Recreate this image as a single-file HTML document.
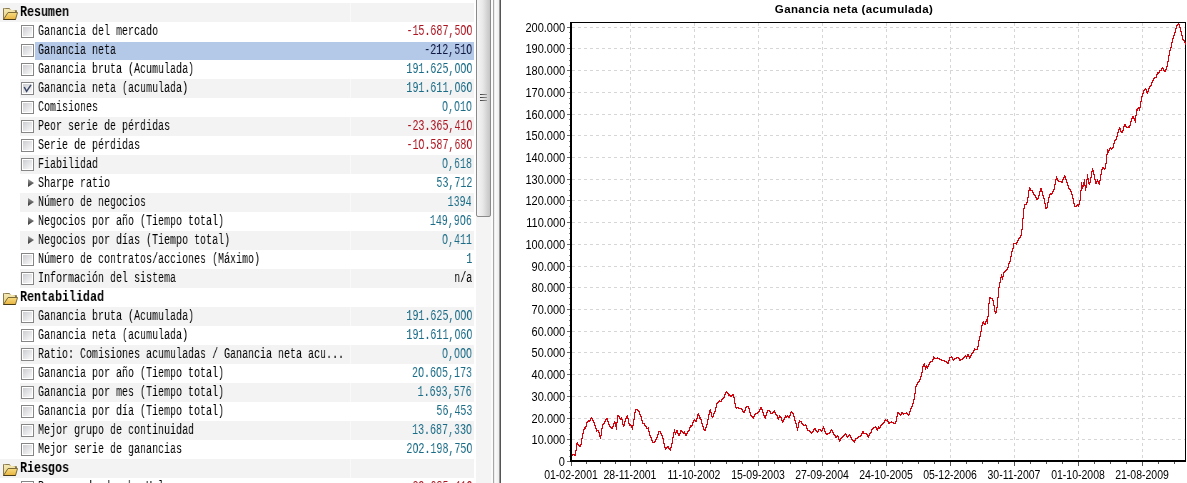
<!DOCTYPE html>
<html><head><meta charset="utf-8"><style>
html,body{margin:0;padding:0;}
body{width:1187px;height:483px;overflow:hidden;position:relative;background:#fff;font-family:"Liberation Sans",sans-serif;}
.band{position:absolute;height:19px;background:#f3f3f3;}
.cb{position:absolute;width:11px;height:11px;border:1px solid #868686;box-shadow:inset 0 0 0 1px #fff;background:linear-gradient(135deg,#cdced2 10%,#f6f6f7 85%);}
.tx{position:absolute;height:19px;line-height:19px;font-family:"Liberation Mono",monospace;font-size:14px;white-space:pre;transform:scaleX(0.7143);transform-origin:0 0;color:#000;will-change:transform;}
.vl{position:absolute;height:19px;line-height:19px;font-family:"Liberation Mono",monospace;font-size:14px;white-space:pre;transform:scaleX(0.7143);transform-origin:100% 0;will-change:transform;}
.hd{position:absolute;height:19px;line-height:19px;font-family:"Liberation Mono",monospace;font-weight:bold;font-size:14px;white-space:pre;transform:scaleX(0.8333);transform-origin:0 0;color:#000;will-change:transform;}
.yl{position:absolute;right:622px;height:16px;line-height:16px;font-size:12.5px;color:#000;white-space:pre;transform:scaleX(0.88);transform-origin:100% 0;}
.xl{position:absolute;top:467px;width:100px;text-align:center;height:16px;line-height:16px;font-size:12.5px;color:#000;white-space:pre;transform:scaleX(0.84);transform-origin:50% 0;}
.title{position:absolute;left:701px;width:306px;top:1px;text-align:center;height:16px;line-height:16px;font-size:11.5px;letter-spacing:0.35px;font-weight:bold;color:#000;white-space:pre;}
</style></head><body>
<div id="left" style="position:absolute;left:0;top:0;width:476px;height:483px;background:#fff;overflow:hidden">
<div class="band" style="left:0;top:3px;width:474px"></div>
<div style="position:absolute;left:350px;top:3px;width:1px;height:19px;background:#f9f9f9"></div>
<svg width="16" height="13" viewBox="0 0 16 13" style="position:absolute;left:3px;top:8px">
<defs><linearGradient id="fb0" x1="0" y1="0" x2="0" y2="1"><stop offset="0" stop-color="#f6ebb8"/><stop offset="1" stop-color="#e6cf7c"/></linearGradient>
<linearGradient id="ff0" x1="0" y1="0" x2="0" y2="1"><stop offset="0" stop-color="#f8dc80"/><stop offset="1" stop-color="#e8b440"/></linearGradient></defs>
<path d="M0.5 0.5 H6.5 L7.5 2.5 H13.5 V4.5 H0.5 Z" fill="url(#fb0)" stroke="#8a7a50" stroke-width="1"/>
<path d="M0.5 0.5 V11.5 H12.5 V2.5" fill="url(#fb0)" stroke="#8a7a50" stroke-width="1"/>
<path d="M0.5 11.5 L5 4.5 H14.5 L12.5 11.5 Z" fill="url(#ff0)" stroke="#7a6a38" stroke-width="1"/><path d="M0.5 11.5 H12.5" stroke="#4a3c14" stroke-width="1"/>
</svg>
<div class="hd" style="left:20px;top:3px">Resumen</div>
<div class="cb" style="left:21px;top:25px"></div>
<div class="tx" style="left:38px;top:22px">Ganancia del mercado</div>
<div class="vl" style="right:4px;top:22px;color:#ac1420">-15.687,5OO</div>
<div class="band" style="left:35px;top:42px;width:439px;height:18px;background:#b4c8e8"></div>
<div class="cb" style="left:21px;top:44px"></div>
<div class="tx" style="left:38px;top:41px">Ganancia neta</div>
<div class="vl" style="right:4px;top:41px;color:#0c1640">-212,51O</div>
<div class="cb" style="left:21px;top:63px"></div>
<div class="tx" style="left:38px;top:60px">Ganancia bruta (Acumulada)</div>
<div class="vl" style="right:4px;top:60px;color:#196b86">191.625,OOO</div>
<div class="band" style="left:20px;top:79px;width:454px"></div>
<div style="position:absolute;left:350px;top:79px;width:1px;height:19px;background:#f9f9f9"></div>
<div class="cb" style="left:21px;top:82px"></div>
<svg width="13" height="13" style="position:absolute;left:21px;top:82px"><path d="M3.2 5 L5.6 9.3 L10 2.8" fill="none" stroke="#3a4868" stroke-width="1.5"/></svg>
<div class="tx" style="left:38px;top:79px">Ganancia neta (acumulada)</div>
<div class="vl" style="right:4px;top:79px;color:#196b86">191.611,O6O</div>
<div class="cb" style="left:21px;top:101px"></div>
<div class="tx" style="left:38px;top:98px">Comisiones</div>
<div class="vl" style="right:4px;top:98px;color:#196b86">O,O1O</div>
<div class="band" style="left:20px;top:117px;width:454px"></div>
<div style="position:absolute;left:350px;top:117px;width:1px;height:19px;background:#f9f9f9"></div>
<div class="cb" style="left:21px;top:120px"></div>
<div class="tx" style="left:38px;top:117px">Peor serie de pérdidas</div>
<div class="vl" style="right:4px;top:117px;color:#ac1420">-23.365,41O</div>
<div class="cb" style="left:21px;top:139px"></div>
<div class="tx" style="left:38px;top:136px">Serie de pérdidas</div>
<div class="vl" style="right:4px;top:136px;color:#ac1420">-1O.587,68O</div>
<div class="band" style="left:20px;top:155px;width:454px"></div>
<div style="position:absolute;left:350px;top:155px;width:1px;height:19px;background:#f9f9f9"></div>
<div class="cb" style="left:21px;top:158px"></div>
<div class="tx" style="left:38px;top:155px">Fiabilidad</div>
<div class="vl" style="right:4px;top:155px;color:#196b86">O,618</div>
<svg width="8" height="10" style="position:absolute;left:27px;top:179px"><defs><linearGradient id="ag9" x1="0" y1="0" x2="0" y2="1"><stop offset="0" stop-color="#a0a0a0"/><stop offset="1" stop-color="#303030"/></linearGradient></defs><path d="M1 0 L7 4 L1 8 Z" fill="url(#ag9)"/></svg>
<div class="tx" style="left:38px;top:174px">Sharpe ratio</div>
<div class="vl" style="right:4px;top:174px;color:#196b86">53,712</div>
<div class="band" style="left:20px;top:193px;width:454px"></div>
<div style="position:absolute;left:350px;top:193px;width:1px;height:19px;background:#f9f9f9"></div>
<svg width="8" height="10" style="position:absolute;left:27px;top:198px"><defs><linearGradient id="ag10" x1="0" y1="0" x2="0" y2="1"><stop offset="0" stop-color="#a0a0a0"/><stop offset="1" stop-color="#303030"/></linearGradient></defs><path d="M1 0 L7 4 L1 8 Z" fill="url(#ag10)"/></svg>
<div class="tx" style="left:38px;top:193px">Número de negocios</div>
<div class="vl" style="right:4px;top:193px;color:#196b86">1394</div>
<svg width="8" height="10" style="position:absolute;left:27px;top:217px"><defs><linearGradient id="ag11" x1="0" y1="0" x2="0" y2="1"><stop offset="0" stop-color="#a0a0a0"/><stop offset="1" stop-color="#303030"/></linearGradient></defs><path d="M1 0 L7 4 L1 8 Z" fill="url(#ag11)"/></svg>
<div class="tx" style="left:38px;top:212px">Negocios por año (Tiempo total)</div>
<div class="vl" style="right:4px;top:212px;color:#196b86">149,9O6</div>
<div class="band" style="left:20px;top:231px;width:454px"></div>
<div style="position:absolute;left:350px;top:231px;width:1px;height:19px;background:#f9f9f9"></div>
<svg width="8" height="10" style="position:absolute;left:27px;top:236px"><defs><linearGradient id="ag12" x1="0" y1="0" x2="0" y2="1"><stop offset="0" stop-color="#a0a0a0"/><stop offset="1" stop-color="#303030"/></linearGradient></defs><path d="M1 0 L7 4 L1 8 Z" fill="url(#ag12)"/></svg>
<div class="tx" style="left:38px;top:231px">Negocios por días (Tiempo total)</div>
<div class="vl" style="right:4px;top:231px;color:#196b86">O,411</div>
<div class="cb" style="left:21px;top:253px"></div>
<div class="tx" style="left:38px;top:250px">Número de contratos/acciones (Máximo)</div>
<div class="vl" style="right:4px;top:250px;color:#196b86">1</div>
<div class="band" style="left:20px;top:269px;width:454px"></div>
<div style="position:absolute;left:350px;top:269px;width:1px;height:19px;background:#f9f9f9"></div>
<div class="cb" style="left:21px;top:272px"></div>
<div class="tx" style="left:38px;top:269px">Información del sistema</div>
<div class="vl" style="right:4px;top:269px;color:#000">n/a</div>
<svg width="16" height="13" viewBox="0 0 16 13" style="position:absolute;left:3px;top:293px">
<defs><linearGradient id="fb15" x1="0" y1="0" x2="0" y2="1"><stop offset="0" stop-color="#f6ebb8"/><stop offset="1" stop-color="#e6cf7c"/></linearGradient>
<linearGradient id="ff15" x1="0" y1="0" x2="0" y2="1"><stop offset="0" stop-color="#f8dc80"/><stop offset="1" stop-color="#e8b440"/></linearGradient></defs>
<path d="M0.5 0.5 H6.5 L7.5 2.5 H13.5 V4.5 H0.5 Z" fill="url(#fb15)" stroke="#8a7a50" stroke-width="1"/>
<path d="M0.5 0.5 V11.5 H12.5 V2.5" fill="url(#fb15)" stroke="#8a7a50" stroke-width="1"/>
<path d="M0.5 11.5 L5 4.5 H14.5 L12.5 11.5 Z" fill="url(#ff15)" stroke="#7a6a38" stroke-width="1"/><path d="M0.5 11.5 H12.5" stroke="#4a3c14" stroke-width="1"/>
</svg>
<div class="hd" style="left:20px;top:288px">Rentabilidad</div>
<div class="band" style="left:20px;top:307px;width:454px"></div>
<div style="position:absolute;left:350px;top:307px;width:1px;height:19px;background:#f9f9f9"></div>
<div class="cb" style="left:21px;top:310px"></div>
<div class="tx" style="left:38px;top:307px">Ganancia bruta (Acumulada)</div>
<div class="vl" style="right:4px;top:307px;color:#196b86">191.625,OOO</div>
<div class="cb" style="left:21px;top:329px"></div>
<div class="tx" style="left:38px;top:326px">Ganancia neta (acumulada)</div>
<div class="vl" style="right:4px;top:326px;color:#196b86">191.611,O6O</div>
<div class="band" style="left:20px;top:345px;width:454px"></div>
<div style="position:absolute;left:350px;top:345px;width:1px;height:19px;background:#f9f9f9"></div>
<div class="cb" style="left:21px;top:348px"></div>
<div class="tx" style="left:38px;top:345px">Ratio: Comisiones acumuladas / Ganancia neta acu...</div>
<div class="vl" style="right:4px;top:345px;color:#196b86">O,OOO</div>
<div class="cb" style="left:21px;top:367px"></div>
<div class="tx" style="left:38px;top:364px">Ganancia por año (Tiempo total)</div>
<div class="vl" style="right:4px;top:364px;color:#196b86">2O.6O5,173</div>
<div class="band" style="left:20px;top:383px;width:454px"></div>
<div style="position:absolute;left:350px;top:383px;width:1px;height:19px;background:#f9f9f9"></div>
<div class="cb" style="left:21px;top:386px"></div>
<div class="tx" style="left:38px;top:383px">Ganancia por mes (Tiempo total)</div>
<div class="vl" style="right:4px;top:383px;color:#196b86">1.693,576</div>
<div class="cb" style="left:21px;top:405px"></div>
<div class="tx" style="left:38px;top:402px">Ganancia por día (Tiempo total)</div>
<div class="vl" style="right:4px;top:402px;color:#196b86">56,453</div>
<div class="band" style="left:20px;top:421px;width:454px"></div>
<div style="position:absolute;left:350px;top:421px;width:1px;height:19px;background:#f9f9f9"></div>
<div class="cb" style="left:21px;top:424px"></div>
<div class="tx" style="left:38px;top:421px">Mejor grupo de continuidad</div>
<div class="vl" style="right:4px;top:421px;color:#196b86">13.687,33O</div>
<div class="cb" style="left:21px;top:443px"></div>
<div class="tx" style="left:38px;top:440px">Mejor serie de ganancias</div>
<div class="vl" style="right:4px;top:440px;color:#196b86">2O2.198,75O</div>
<div class="band" style="left:0;top:459px;width:474px"></div>
<div style="position:absolute;left:350px;top:459px;width:1px;height:19px;background:#f9f9f9"></div>
<svg width="16" height="13" viewBox="0 0 16 13" style="position:absolute;left:3px;top:464px">
<defs><linearGradient id="fb24" x1="0" y1="0" x2="0" y2="1"><stop offset="0" stop-color="#f6ebb8"/><stop offset="1" stop-color="#e6cf7c"/></linearGradient>
<linearGradient id="ff24" x1="0" y1="0" x2="0" y2="1"><stop offset="0" stop-color="#f8dc80"/><stop offset="1" stop-color="#e8b440"/></linearGradient></defs>
<path d="M0.5 0.5 H6.5 L7.5 2.5 H13.5 V4.5 H0.5 Z" fill="url(#fb24)" stroke="#8a7a50" stroke-width="1"/>
<path d="M0.5 0.5 V11.5 H12.5 V2.5" fill="url(#fb24)" stroke="#8a7a50" stroke-width="1"/>
<path d="M0.5 11.5 L5 4.5 H14.5 L12.5 11.5 Z" fill="url(#ff24)" stroke="#7a6a38" stroke-width="1"/><path d="M0.5 11.5 H12.5" stroke="#4a3c14" stroke-width="1"/>
</svg>
<div class="hd" style="left:20px;top:459px">Riesgos</div>
<div class="cb" style="left:21px;top:481px"></div>
<div class="tx" style="left:38px;top:478px">Resumen de de cha Ual</div>
<div class="vl" style="right:4px;top:478px;color:#ac1420">-29.685,41O</div>
</div>
<!-- scrollbar -->
<div style="position:absolute;left:476px;top:0;width:15px;height:483px;background:#f4f4f4"></div>
<div style="position:absolute;left:476px;top:-6px;width:13px;height:221px;border:1px solid #8a8a8a;border-radius:2px;background:linear-gradient(90deg,#f6f6f6 0%,#e8e8e8 45%,#c4c4c4 100%)"></div>
<div style="position:absolute;left:491px;top:0;width:2px;height:483px;background:#fbfbfb"></div>
<div style="position:absolute;left:493px;top:0;width:1px;height:483px;background:#a8a8a8"></div>
<div style="position:absolute;left:494px;top:0;width:5px;height:483px;background:linear-gradient(90deg,#e6e6e6,#fafafa 30%,#eeeeee 100%)"></div>
<div style="position:absolute;left:499px;top:0;width:1px;height:483px;background:#9a9a9a"></div>
<div style="position:absolute;left:500px;top:0;width:1px;height:483px;background:#555"></div>
<div style="position:absolute;left:480px;top:94px;width:7px;height:1px;background:linear-gradient(90deg,#3a3a3a,#9a9a9a)"></div>
<div style="position:absolute;left:480px;top:97px;width:7px;height:1px;background:linear-gradient(90deg,#3a3a3a,#9a9a9a)"></div>
<div style="position:absolute;left:480px;top:100px;width:7px;height:1px;background:linear-gradient(90deg,#3a3a3a,#9a9a9a)"></div>
<div id="chart" style="position:absolute;left:501px;top:0;width:686px;height:483px;background:#fff"></div>
<svg width="1187" height="483" style="position:absolute;left:0;top:0" shape-rendering="crispEdges">
<line x1="572" y1="439.5" x2="1185" y2="439.5" stroke="#d6d6d6" stroke-dasharray="3,3"/>
<line x1="572" y1="418.5" x2="1185" y2="418.5" stroke="#d6d6d6" stroke-dasharray="3,3"/>
<line x1="572" y1="396.5" x2="1185" y2="396.5" stroke="#d6d6d6" stroke-dasharray="3,3"/>
<line x1="572" y1="374.5" x2="1185" y2="374.5" stroke="#d6d6d6" stroke-dasharray="3,3"/>
<line x1="572" y1="352.5" x2="1185" y2="352.5" stroke="#d6d6d6" stroke-dasharray="3,3"/>
<line x1="572" y1="331.5" x2="1185" y2="331.5" stroke="#d6d6d6" stroke-dasharray="3,3"/>
<line x1="572" y1="309.5" x2="1185" y2="309.5" stroke="#d6d6d6" stroke-dasharray="3,3"/>
<line x1="572" y1="287.5" x2="1185" y2="287.5" stroke="#d6d6d6" stroke-dasharray="3,3"/>
<line x1="572" y1="266.5" x2="1185" y2="266.5" stroke="#d6d6d6" stroke-dasharray="3,3"/>
<line x1="572" y1="244.5" x2="1185" y2="244.5" stroke="#d6d6d6" stroke-dasharray="3,3"/>
<line x1="572" y1="222.5" x2="1185" y2="222.5" stroke="#d6d6d6" stroke-dasharray="3,3"/>
<line x1="572" y1="200.5" x2="1185" y2="200.5" stroke="#d6d6d6" stroke-dasharray="3,3"/>
<line x1="572" y1="179.5" x2="1185" y2="179.5" stroke="#d6d6d6" stroke-dasharray="3,3"/>
<line x1="572" y1="157.5" x2="1185" y2="157.5" stroke="#d6d6d6" stroke-dasharray="3,3"/>
<line x1="572" y1="135.5" x2="1185" y2="135.5" stroke="#d6d6d6" stroke-dasharray="3,3"/>
<line x1="572" y1="114.5" x2="1185" y2="114.5" stroke="#d6d6d6" stroke-dasharray="3,3"/>
<line x1="572" y1="92.5" x2="1185" y2="92.5" stroke="#d6d6d6" stroke-dasharray="3,3"/>
<line x1="572" y1="70.5" x2="1185" y2="70.5" stroke="#d6d6d6" stroke-dasharray="3,3"/>
<line x1="572" y1="48.5" x2="1185" y2="48.5" stroke="#d6d6d6" stroke-dasharray="3,3"/>
<line x1="572" y1="27.5" x2="1185" y2="27.5" stroke="#d6d6d6" stroke-dasharray="3,3"/>
<line x1="630.5" y1="23" x2="630.5" y2="460" stroke="#d6d6d6" stroke-dasharray="3,3"/>
<line x1="694.5" y1="23" x2="694.5" y2="460" stroke="#d6d6d6" stroke-dasharray="3,3"/>
<line x1="758.5" y1="23" x2="758.5" y2="460" stroke="#d6d6d6" stroke-dasharray="3,3"/>
<line x1="822.5" y1="23" x2="822.5" y2="460" stroke="#d6d6d6" stroke-dasharray="3,3"/>
<line x1="886.5" y1="23" x2="886.5" y2="460" stroke="#d6d6d6" stroke-dasharray="3,3"/>
<line x1="950.5" y1="23" x2="950.5" y2="460" stroke="#d6d6d6" stroke-dasharray="3,3"/>
<line x1="1014.5" y1="23" x2="1014.5" y2="460" stroke="#d6d6d6" stroke-dasharray="3,3"/>
<line x1="1078.5" y1="23" x2="1078.5" y2="460" stroke="#d6d6d6" stroke-dasharray="3,3"/>
<line x1="1142.5" y1="23" x2="1142.5" y2="460" stroke="#d6d6d6" stroke-dasharray="3,3"/>
<rect x="570" y="22" width="616" height="1" fill="#000"/>
<rect x="1185" y="22" width="1" height="439" fill="#000"/>
<rect x="570" y="22" width="2" height="440" fill="#000"/>
<rect x="570" y="460" width="616" height="2" fill="#000"/>
<rect x="567" y="461" width="3" height="1" fill="#6a6a6a"/>
<rect x="569" y="456" width="1" height="1" fill="#8a8a8a"/>
<rect x="569" y="450" width="1" height="1" fill="#8a8a8a"/>
<rect x="569" y="445" width="1" height="1" fill="#8a8a8a"/>
<rect x="567" y="439" width="3" height="1" fill="#6a6a6a"/>
<rect x="569" y="434" width="1" height="1" fill="#8a8a8a"/>
<rect x="569" y="428" width="1" height="1" fill="#8a8a8a"/>
<rect x="569" y="423" width="1" height="1" fill="#8a8a8a"/>
<rect x="567" y="418" width="3" height="1" fill="#6a6a6a"/>
<rect x="569" y="412" width="1" height="1" fill="#8a8a8a"/>
<rect x="569" y="407" width="1" height="1" fill="#8a8a8a"/>
<rect x="569" y="401" width="1" height="1" fill="#8a8a8a"/>
<rect x="567" y="396" width="3" height="1" fill="#6a6a6a"/>
<rect x="569" y="390" width="1" height="1" fill="#8a8a8a"/>
<rect x="569" y="385" width="1" height="1" fill="#8a8a8a"/>
<rect x="569" y="380" width="1" height="1" fill="#8a8a8a"/>
<rect x="567" y="374" width="3" height="1" fill="#6a6a6a"/>
<rect x="569" y="369" width="1" height="1" fill="#8a8a8a"/>
<rect x="569" y="363" width="1" height="1" fill="#8a8a8a"/>
<rect x="569" y="358" width="1" height="1" fill="#8a8a8a"/>
<rect x="567" y="352" width="3" height="1" fill="#6a6a6a"/>
<rect x="569" y="347" width="1" height="1" fill="#8a8a8a"/>
<rect x="569" y="342" width="1" height="1" fill="#8a8a8a"/>
<rect x="569" y="336" width="1" height="1" fill="#8a8a8a"/>
<rect x="567" y="331" width="3" height="1" fill="#6a6a6a"/>
<rect x="569" y="325" width="1" height="1" fill="#8a8a8a"/>
<rect x="569" y="320" width="1" height="1" fill="#8a8a8a"/>
<rect x="569" y="315" width="1" height="1" fill="#8a8a8a"/>
<rect x="567" y="309" width="3" height="1" fill="#6a6a6a"/>
<rect x="569" y="304" width="1" height="1" fill="#8a8a8a"/>
<rect x="569" y="298" width="1" height="1" fill="#8a8a8a"/>
<rect x="569" y="293" width="1" height="1" fill="#8a8a8a"/>
<rect x="567" y="287" width="3" height="1" fill="#6a6a6a"/>
<rect x="569" y="282" width="1" height="1" fill="#8a8a8a"/>
<rect x="569" y="277" width="1" height="1" fill="#8a8a8a"/>
<rect x="569" y="271" width="1" height="1" fill="#8a8a8a"/>
<rect x="567" y="266" width="3" height="1" fill="#6a6a6a"/>
<rect x="569" y="260" width="1" height="1" fill="#8a8a8a"/>
<rect x="569" y="255" width="1" height="1" fill="#8a8a8a"/>
<rect x="569" y="249" width="1" height="1" fill="#8a8a8a"/>
<rect x="567" y="244" width="3" height="1" fill="#6a6a6a"/>
<rect x="569" y="239" width="1" height="1" fill="#8a8a8a"/>
<rect x="569" y="233" width="1" height="1" fill="#8a8a8a"/>
<rect x="569" y="228" width="1" height="1" fill="#8a8a8a"/>
<rect x="567" y="222" width="3" height="1" fill="#6a6a6a"/>
<rect x="569" y="217" width="1" height="1" fill="#8a8a8a"/>
<rect x="569" y="211" width="1" height="1" fill="#8a8a8a"/>
<rect x="569" y="206" width="1" height="1" fill="#8a8a8a"/>
<rect x="567" y="200" width="3" height="1" fill="#6a6a6a"/>
<rect x="569" y="195" width="1" height="1" fill="#8a8a8a"/>
<rect x="569" y="190" width="1" height="1" fill="#8a8a8a"/>
<rect x="569" y="184" width="1" height="1" fill="#8a8a8a"/>
<rect x="567" y="179" width="3" height="1" fill="#6a6a6a"/>
<rect x="569" y="173" width="1" height="1" fill="#8a8a8a"/>
<rect x="569" y="168" width="1" height="1" fill="#8a8a8a"/>
<rect x="569" y="163" width="1" height="1" fill="#8a8a8a"/>
<rect x="567" y="157" width="3" height="1" fill="#6a6a6a"/>
<rect x="569" y="152" width="1" height="1" fill="#8a8a8a"/>
<rect x="569" y="146" width="1" height="1" fill="#8a8a8a"/>
<rect x="569" y="141" width="1" height="1" fill="#8a8a8a"/>
<rect x="567" y="135" width="3" height="1" fill="#6a6a6a"/>
<rect x="569" y="130" width="1" height="1" fill="#8a8a8a"/>
<rect x="569" y="125" width="1" height="1" fill="#8a8a8a"/>
<rect x="569" y="119" width="1" height="1" fill="#8a8a8a"/>
<rect x="567" y="114" width="3" height="1" fill="#6a6a6a"/>
<rect x="569" y="108" width="1" height="1" fill="#8a8a8a"/>
<rect x="569" y="103" width="1" height="1" fill="#8a8a8a"/>
<rect x="569" y="98" width="1" height="1" fill="#8a8a8a"/>
<rect x="567" y="92" width="3" height="1" fill="#6a6a6a"/>
<rect x="569" y="87" width="1" height="1" fill="#8a8a8a"/>
<rect x="569" y="81" width="1" height="1" fill="#8a8a8a"/>
<rect x="569" y="76" width="1" height="1" fill="#8a8a8a"/>
<rect x="567" y="70" width="3" height="1" fill="#6a6a6a"/>
<rect x="569" y="65" width="1" height="1" fill="#8a8a8a"/>
<rect x="569" y="60" width="1" height="1" fill="#8a8a8a"/>
<rect x="569" y="54" width="1" height="1" fill="#8a8a8a"/>
<rect x="567" y="48" width="3" height="1" fill="#6a6a6a"/>
<rect x="569" y="43" width="1" height="1" fill="#8a8a8a"/>
<rect x="569" y="38" width="1" height="1" fill="#8a8a8a"/>
<rect x="569" y="32" width="1" height="1" fill="#8a8a8a"/>
<rect x="567" y="27" width="3" height="1" fill="#6a6a6a"/>
<rect x="571" y="462" width="1" height="4" fill="#555"/>
<rect x="630" y="462" width="1" height="4" fill="#555"/>
<rect x="694" y="462" width="1" height="4" fill="#555"/>
<rect x="758" y="462" width="1" height="4" fill="#555"/>
<rect x="822" y="462" width="1" height="4" fill="#555"/>
<rect x="886" y="462" width="1" height="4" fill="#555"/>
<rect x="950" y="462" width="1" height="4" fill="#555"/>
<rect x="1014" y="462" width="1" height="4" fill="#555"/>
<rect x="1078" y="462" width="1" height="4" fill="#555"/>
<rect x="1142" y="462" width="1" height="4" fill="#555"/>
<rect x="586" y="462" width="1" height="2" fill="#555"/>
<rect x="600" y="462" width="1" height="2" fill="#555"/>
<rect x="615" y="462" width="1" height="2" fill="#555"/>
<rect x="646" y="462" width="1" height="2" fill="#555"/>
<rect x="662" y="462" width="1" height="2" fill="#555"/>
<rect x="678" y="462" width="1" height="2" fill="#555"/>
<rect x="710" y="462" width="1" height="2" fill="#555"/>
<rect x="726" y="462" width="1" height="2" fill="#555"/>
<rect x="742" y="462" width="1" height="2" fill="#555"/>
<rect x="774" y="462" width="1" height="2" fill="#555"/>
<rect x="790" y="462" width="1" height="2" fill="#555"/>
<rect x="806" y="462" width="1" height="2" fill="#555"/>
<rect x="838" y="462" width="1" height="2" fill="#555"/>
<rect x="854" y="462" width="1" height="2" fill="#555"/>
<rect x="870" y="462" width="1" height="2" fill="#555"/>
<rect x="902" y="462" width="1" height="2" fill="#555"/>
<rect x="918" y="462" width="1" height="2" fill="#555"/>
<rect x="934" y="462" width="1" height="2" fill="#555"/>
<rect x="966" y="462" width="1" height="2" fill="#555"/>
<rect x="982" y="462" width="1" height="2" fill="#555"/>
<rect x="998" y="462" width="1" height="2" fill="#555"/>
<rect x="1030" y="462" width="1" height="2" fill="#555"/>
<rect x="1046" y="462" width="1" height="2" fill="#555"/>
<rect x="1062" y="462" width="1" height="2" fill="#555"/>
<rect x="1094" y="462" width="1" height="2" fill="#555"/>
<rect x="1110" y="462" width="1" height="2" fill="#555"/>
<rect x="1126" y="462" width="1" height="2" fill="#555"/>
<rect x="1158" y="462" width="1" height="2" fill="#555"/>
<rect x="1174" y="462" width="1" height="2" fill="#555"/>
</svg>
<svg width="1187" height="483" style="position:absolute;left:0;top:0" shape-rendering="crispEdges"><path d="M572 454h1v2h-1zM573 454h1v1h-1zM574 454h1v2h-1zM575 450h1v6h-1zM576 443h1v8h-1zM577 442h1v3h-1zM578 444h1v2h-1zM579 445h1v2h-1zM580 444h1v3h-1zM581 438h1v7h-1zM582 433h1v6h-1zM583 429h1v5h-1zM584 427h1v3h-1zM585 426h1v3h-1zM586 422h1v5h-1zM587 421h1v2h-1zM588 420h1v2h-1zM589 420h1v2h-1zM590 418h1v3h-1zM591 417h1v2h-1zM592 418h1v3h-1zM593 420h1v3h-1zM594 422h1v4h-1zM595 425h1v4h-1zM596 428h1v4h-1zM597 430h1v1h-1zM598 430h1v3h-1zM599 432h1v5h-1zM600 435h1v4h-1zM601 428h1v8h-1zM602 424h1v5h-1zM603 423h1v2h-1zM604 421h1v3h-1zM605 419h1v3h-1zM606 418h1v2h-1zM607 418h1v4h-1zM608 421h1v4h-1zM609 424h1v3h-1zM610 426h1v2h-1zM611 427h1v2h-1zM612 426h1v3h-1zM613 423h1v4h-1zM614 421h1v3h-1zM615 422h1v5h-1zM616 422h1v8h-1zM617 415h1v8h-1zM618 415h1v2h-1zM619 416h1v3h-1zM620 418h1v2h-1zM621 417h1v3h-1zM622 419h1v6h-1zM623 424h1v3h-1zM624 421h1v5h-1zM625 418h1v4h-1zM626 416h1v3h-1zM627 415h1v4h-1zM628 418h1v6h-1zM629 423h1v3h-1zM630 424h1v2h-1zM631 425h1v3h-1zM632 425h1v5h-1zM633 419h1v7h-1zM634 412h1v8h-1zM635 409h1v4h-1zM636 409h1v1h-1zM637 409h1v2h-1zM638 410h1v2h-1zM639 411h1v4h-1zM640 414h1v3h-1zM641 416h1v5h-1zM642 420h1v4h-1zM643 423h1v1h-1zM644 423h1v3h-1zM645 425h1v2h-1zM646 426h1v3h-1zM647 428h1v1h-1zM648 427h1v5h-1zM649 431h1v5h-1zM650 435h1v3h-1zM651 437h1v4h-1zM652 440h1v3h-1zM653 442h1v1h-1zM654 441h1v2h-1zM655 439h1v3h-1zM656 437h1v3h-1zM657 434h1v4h-1zM658 431h1v4h-1zM659 431h1v1h-1zM660 431h1v3h-1zM661 433h1v3h-1zM662 435h1v4h-1zM663 438h1v6h-1zM664 443h1v5h-1zM665 447h1v3h-1zM666 447h1v2h-1zM667 446h1v2h-1zM668 446h1v3h-1zM669 448h1v2h-1zM670 447h1v4h-1zM671 443h1v5h-1zM672 437h1v7h-1zM673 432h1v6h-1zM674 429h1v4h-1zM675 432h1v3h-1zM676 430h1v3h-1zM677 430h1v4h-1zM678 433h1v3h-1zM679 433h1v3h-1zM680 430h1v4h-1zM681 430h1v2h-1zM682 431h1v2h-1zM683 432h1v2h-1zM684 431h1v3h-1zM685 433h1v3h-1zM686 433h1v3h-1zM687 431h1v3h-1zM688 430h1v2h-1zM689 427h1v4h-1zM690 425h1v3h-1zM691 425h1v2h-1zM692 422h1v4h-1zM693 420h1v3h-1zM694 419h1v2h-1zM695 420h1v2h-1zM696 418h1v4h-1zM697 414h1v5h-1zM698 413h1v3h-1zM699 415h1v4h-1zM700 417h1v3h-1zM701 419h1v5h-1zM702 423h1v4h-1zM703 426h1v4h-1zM704 429h1v2h-1zM705 427h1v4h-1zM706 424h1v4h-1zM707 419h1v6h-1zM708 414h1v6h-1zM709 410h1v5h-1zM710 409h1v4h-1zM711 412h1v5h-1zM712 416h1v2h-1zM713 413h1v4h-1zM714 411h1v3h-1zM715 407h1v5h-1zM716 403h1v5h-1zM717 402h1v2h-1zM718 401h1v2h-1zM719 400h1v2h-1zM720 401h1v1h-1zM721 399h1v3h-1zM722 398h1v2h-1zM723 397h1v2h-1zM724 394h1v4h-1zM725 392h1v3h-1zM726 391h1v2h-1zM727 392h1v2h-1zM728 393h1v3h-1zM729 394h1v2h-1zM730 395h1v2h-1zM731 395h1v2h-1zM732 394h1v2h-1zM733 394h1v4h-1zM734 397h1v7h-1zM735 403h1v5h-1zM736 407h1v2h-1zM737 407h1v1h-1zM738 407h1v2h-1zM739 408h1v1h-1zM740 408h1v1h-1zM741 408h1v2h-1zM742 409h1v3h-1zM743 411h1v2h-1zM744 410h1v3h-1zM745 407h1v4h-1zM746 406h1v2h-1zM747 406h1v1h-1zM748 406h1v3h-1zM749 408h1v5h-1zM750 412h1v4h-1zM751 415h1v2h-1zM752 416h1v2h-1zM753 416h1v3h-1zM754 414h1v3h-1zM755 413h1v2h-1zM756 413h1v1h-1zM757 412h1v2h-1zM758 411h1v2h-1zM759 409h1v3h-1zM760 407h1v3h-1zM761 407h1v3h-1zM762 409h1v4h-1zM763 412h1v4h-1zM764 415h1v3h-1zM765 415h1v4h-1zM766 412h1v4h-1zM767 410h1v3h-1zM768 410h1v1h-1zM769 410h1v2h-1zM770 411h1v3h-1zM771 413h1v1h-1zM772 412h1v2h-1zM773 411h1v2h-1zM774 410h1v3h-1zM775 412h1v3h-1zM776 414h1v2h-1zM777 415h1v4h-1zM778 417h1v3h-1zM779 415h1v3h-1zM780 416h1v2h-1zM781 417h1v4h-1zM782 420h1v3h-1zM783 419h1v3h-1zM784 417h1v3h-1zM785 415h1v3h-1zM786 416h1v2h-1zM787 415h1v2h-1zM788 416h1v2h-1zM789 415h1v3h-1zM790 412h1v4h-1zM791 411h1v2h-1zM792 412h1v2h-1zM793 413h1v4h-1zM794 416h1v5h-1zM795 420h1v4h-1zM796 423h1v5h-1zM797 427h1v4h-1zM798 422h1v6h-1zM799 420h1v3h-1zM800 421h1v1h-1zM801 421h1v3h-1zM802 423h1v2h-1zM803 424h1v2h-1zM804 425h1v1h-1zM805 424h1v2h-1zM806 425h1v4h-1zM807 428h1v3h-1zM808 430h1v1h-1zM809 430h1v2h-1zM810 431h1v2h-1zM811 432h1v2h-1zM812 431h1v2h-1zM813 429h1v3h-1zM814 428h1v2h-1zM815 428h1v3h-1zM816 430h1v2h-1zM817 431h1v2h-1zM818 429h1v3h-1zM819 429h1v1h-1zM820 429h1v2h-1zM821 430h1v2h-1zM822 428h1v3h-1zM823 426h1v3h-1zM824 428h1v4h-1zM825 431h1v3h-1zM826 433h1v2h-1zM827 433h1v2h-1zM828 433h1v1h-1zM829 432h1v2h-1zM830 430h1v3h-1zM831 429h1v2h-1zM832 430h1v3h-1zM833 432h1v3h-1zM834 434h1v2h-1zM835 435h1v3h-1zM836 436h1v2h-1zM837 435h1v2h-1zM838 436h1v4h-1zM839 439h1v3h-1zM840 438h1v3h-1zM841 437h1v2h-1zM842 436h1v2h-1zM843 435h1v2h-1zM844 434h1v2h-1zM845 433h1v2h-1zM846 434h1v3h-1zM847 436h1v2h-1zM848 435h1v2h-1zM849 434h1v2h-1zM850 435h1v3h-1zM851 437h1v3h-1zM852 439h1v2h-1zM853 440h1v2h-1zM854 440h1v3h-1zM855 438h1v3h-1zM856 438h1v1h-1zM857 437h1v2h-1zM858 436h1v2h-1zM859 436h1v1h-1zM860 435h1v2h-1zM861 433h1v3h-1zM862 431h1v3h-1zM863 431h1v3h-1zM864 433h1v1h-1zM865 433h1v1h-1zM866 433h1v2h-1zM867 434h1v3h-1zM868 435h1v3h-1zM869 433h1v3h-1zM870 432h1v2h-1zM871 429h1v4h-1zM872 428h1v2h-1zM873 427h1v2h-1zM874 427h1v1h-1zM875 426h1v2h-1zM876 427h1v3h-1zM877 428h1v3h-1zM878 426h1v3h-1zM879 427h1v2h-1zM880 425h1v3h-1zM881 424h1v2h-1zM882 423h1v2h-1zM883 422h1v2h-1zM884 420h1v3h-1zM885 419h1v2h-1zM886 420h1v1h-1zM887 419h1v3h-1zM888 421h1v3h-1zM889 422h1v2h-1zM890 422h1v1h-1zM891 421h1v2h-1zM892 422h1v1h-1zM893 422h1v2h-1zM894 423h1v1h-1zM895 421h1v3h-1zM896 416h1v6h-1zM897 412h1v5h-1zM898 412h1v2h-1zM899 413h1v2h-1zM900 414h1v2h-1zM901 412h1v3h-1zM902 412h1v2h-1zM903 413h1v2h-1zM904 413h1v1h-1zM905 413h1v1h-1zM906 412h1v2h-1zM907 413h1v2h-1zM908 414h1v2h-1zM909 411h1v4h-1zM910 408h1v4h-1zM911 406h1v3h-1zM912 403h1v4h-1zM913 399h1v5h-1zM914 393h1v7h-1zM915 386h1v8h-1zM916 384h1v3h-1zM917 382h1v3h-1zM918 381h1v2h-1zM919 379h1v3h-1zM920 376h1v4h-1zM921 372h1v5h-1zM922 366h1v7h-1zM923 364h1v3h-1zM924 363h1v4h-1zM925 366h1v4h-1zM926 365h1v3h-1zM927 366h1v3h-1zM928 364h1v3h-1zM929 362h1v3h-1zM930 361h1v2h-1zM931 361h1v1h-1zM932 359h1v3h-1zM933 356h1v4h-1zM934 357h1v2h-1zM935 358h1v1h-1zM936 358h1v1h-1zM937 357h1v2h-1zM938 358h1v1h-1zM939 358h1v2h-1zM940 359h1v1h-1zM941 359h1v2h-1zM942 360h1v1h-1zM943 360h1v1h-1zM944 360h1v2h-1zM945 361h1v1h-1zM946 361h1v2h-1zM947 362h1v2h-1zM948 360h1v4h-1zM949 357h1v4h-1zM950 357h1v1h-1zM951 356h1v2h-1zM952 357h1v3h-1zM953 359h1v2h-1zM954 358h1v2h-1zM955 358h1v1h-1zM956 357h1v2h-1zM957 357h1v1h-1zM958 357h1v2h-1zM959 358h1v3h-1zM960 359h1v2h-1zM961 359h1v1h-1zM962 358h1v2h-1zM963 357h1v2h-1zM964 356h1v2h-1zM965 355h1v2h-1zM966 356h1v3h-1zM967 354h1v3h-1zM968 354h1v3h-1zM969 356h1v3h-1zM970 355h1v3h-1zM971 353h1v3h-1zM972 352h1v2h-1zM973 350h1v3h-1zM974 348h1v3h-1zM975 349h1v1h-1zM976 349h1v1h-1zM977 346h1v4h-1zM978 340h1v7h-1zM979 336h1v5h-1zM980 331h1v6h-1zM981 325h1v7h-1zM982 322h1v4h-1zM983 321h1v3h-1zM984 323h1v2h-1zM985 321h1v4h-1zM986 319h1v3h-1zM987 316h1v8h-1zM988 303h1v14h-1zM989 297h1v7h-1zM990 297h1v2h-1zM991 298h1v1h-1zM992 298h1v3h-1zM993 300h1v6h-1zM994 305h1v7h-1zM995 311h1v3h-1zM996 307h1v6h-1zM997 297h1v11h-1zM998 287h1v11h-1zM999 282h1v6h-1zM1000 277h1v6h-1zM1001 274h1v4h-1zM1002 276h1v4h-1zM1003 272h1v5h-1zM1004 271h1v2h-1zM1005 270h1v2h-1zM1006 269h1v2h-1zM1007 267h1v3h-1zM1008 263h1v5h-1zM1009 261h1v3h-1zM1010 256h1v6h-1zM1011 251h1v6h-1zM1012 248h1v4h-1zM1013 243h1v6h-1zM1014 243h1v1h-1zM1015 243h1v1h-1zM1016 242h1v3h-1zM1017 240h1v3h-1zM1018 238h1v3h-1zM1019 237h1v2h-1zM1020 235h1v3h-1zM1021 229h1v7h-1zM1022 218h1v12h-1zM1023 208h1v11h-1zM1024 204h1v5h-1zM1025 204h1v1h-1zM1026 202h1v3h-1zM1027 197h1v6h-1zM1028 190h1v8h-1zM1029 187h1v4h-1zM1030 188h1v3h-1zM1031 190h1v1h-1zM1032 190h1v3h-1zM1033 192h1v3h-1zM1034 194h1v2h-1zM1035 195h1v3h-1zM1036 197h1v3h-1zM1037 198h1v2h-1zM1038 195h1v4h-1zM1039 191h1v5h-1zM1040 188h1v4h-1zM1041 188h1v4h-1zM1042 191h1v5h-1zM1043 195h1v4h-1zM1044 198h1v6h-1zM1045 203h1v6h-1zM1046 207h1v2h-1zM1047 202h1v6h-1zM1048 197h1v6h-1zM1049 194h1v4h-1zM1050 193h1v2h-1zM1051 193h1v2h-1zM1052 191h1v3h-1zM1053 189h1v3h-1zM1054 184h1v6h-1zM1055 179h1v6h-1zM1056 176h1v4h-1zM1057 178h1v3h-1zM1058 180h1v2h-1zM1059 181h1v1h-1zM1060 181h1v1h-1zM1061 181h1v2h-1zM1062 179h1v4h-1zM1063 177h1v3h-1zM1064 175h1v3h-1zM1065 176h1v4h-1zM1066 179h1v4h-1zM1067 182h1v4h-1zM1068 185h1v4h-1zM1069 188h1v2h-1zM1070 189h1v3h-1zM1071 191h1v4h-1zM1072 194h1v5h-1zM1073 198h1v6h-1zM1074 203h1v4h-1zM1075 206h1v1h-1zM1076 205h1v2h-1zM1077 204h1v2h-1zM1078 204h1v3h-1zM1079 200h1v5h-1zM1080 190h1v11h-1zM1081 182h1v9h-1zM1082 185h1v4h-1zM1083 182h1v5h-1zM1084 179h1v7h-1zM1085 185h1v6h-1zM1086 179h1v9h-1zM1087 174h1v6h-1zM1088 178h1v6h-1zM1089 182h1v3h-1zM1090 177h1v6h-1zM1091 171h1v7h-1zM1092 168h1v4h-1zM1093 170h1v5h-1zM1094 174h1v6h-1zM1095 179h1v5h-1zM1096 181h1v3h-1zM1097 179h1v3h-1zM1098 181h1v3h-1zM1099 180h1v5h-1zM1100 174h1v7h-1zM1101 169h1v6h-1zM1102 167h1v3h-1zM1103 167h1v2h-1zM1104 168h1v2h-1zM1105 163h1v6h-1zM1106 154h1v10h-1zM1107 149h1v6h-1zM1108 150h1v3h-1zM1109 148h1v3h-1zM1110 147h1v2h-1zM1111 148h1v2h-1zM1112 147h1v2h-1zM1113 143h1v5h-1zM1114 140h1v4h-1zM1115 139h1v2h-1zM1116 136h1v4h-1zM1117 132h1v5h-1zM1118 129h1v4h-1zM1119 127h1v3h-1zM1120 128h1v4h-1zM1121 131h1v2h-1zM1122 130h1v3h-1zM1123 126h1v5h-1zM1124 124h1v3h-1zM1125 124h1v3h-1zM1126 126h1v2h-1zM1127 127h1v1h-1zM1128 126h1v2h-1zM1129 125h1v3h-1zM1130 121h1v5h-1zM1131 118h1v4h-1zM1132 116h1v3h-1zM1133 116h1v3h-1zM1134 118h1v3h-1zM1135 115h1v8h-1zM1136 109h1v7h-1zM1137 108h1v3h-1zM1138 107h1v2h-1zM1139 107h1v4h-1zM1140 101h1v7h-1zM1141 96h1v6h-1zM1142 93h1v4h-1zM1143 90h1v4h-1zM1144 89h1v2h-1zM1145 88h1v2h-1zM1146 89h1v4h-1zM1147 91h1v3h-1zM1148 88h1v4h-1zM1149 86h1v3h-1zM1150 85h1v2h-1zM1151 82h1v4h-1zM1152 80h1v3h-1zM1153 78h1v3h-1zM1154 77h1v2h-1zM1155 77h1v1h-1zM1156 74h1v4h-1zM1157 72h1v3h-1zM1158 72h1v2h-1zM1159 70h1v3h-1zM1160 70h1v1h-1zM1161 68h1v3h-1zM1162 67h1v2h-1zM1163 68h1v3h-1zM1164 70h1v2h-1zM1165 69h1v3h-1zM1166 66h1v4h-1zM1167 61h1v6h-1zM1168 55h1v7h-1zM1169 50h1v6h-1zM1170 47h1v4h-1zM1171 42h1v6h-1zM1172 38h1v5h-1zM1173 35h1v4h-1zM1174 32h1v4h-1zM1175 28h1v5h-1zM1176 25h1v4h-1zM1177 24h1v2h-1zM1178 23h1v2h-1zM1179 24h1v4h-1zM1180 27h1v5h-1zM1181 31h1v5h-1zM1182 35h1v5h-1zM1183 39h1v2h-1zM1184 40h1v3h-1zM1185 42h1v3h-1z" fill="#d2040e"/></svg>
<div class="yl" style="top:454px">0</div>
<div class="yl" style="top:432px">10.000</div>
<div class="yl" style="top:411px">20.000</div>
<div class="yl" style="top:389px">30.000</div>
<div class="yl" style="top:367px">40.000</div>
<div class="yl" style="top:345px">50.000</div>
<div class="yl" style="top:324px">60.000</div>
<div class="yl" style="top:302px">70.000</div>
<div class="yl" style="top:280px">80.000</div>
<div class="yl" style="top:259px">90.000</div>
<div class="yl" style="top:237px">100.000</div>
<div class="yl" style="top:215px">110.000</div>
<div class="yl" style="top:193px">120.000</div>
<div class="yl" style="top:172px">130.000</div>
<div class="yl" style="top:150px">140.000</div>
<div class="yl" style="top:128px">150.000</div>
<div class="yl" style="top:107px">160.000</div>
<div class="yl" style="top:85px">170.000</div>
<div class="yl" style="top:63px">180.000</div>
<div class="yl" style="top:41px">190.000</div>
<div class="yl" style="top:20px">200.000</div>
<div class="xl" style="left:520.5px">01-02-2001</div>
<div class="xl" style="left:579.5px">28-11-2001</div>
<div class="xl" style="left:643.5px">11-10-2002</div>
<div class="xl" style="left:707.5px">15-09-2003</div>
<div class="xl" style="left:771.5px">27-09-2004</div>
<div class="xl" style="left:835.5px">24-10-2005</div>
<div class="xl" style="left:899.5px">05-12-2006</div>
<div class="xl" style="left:963.5px">30-11-2007</div>
<div class="xl" style="left:1027.5px">01-10-2008</div>
<div class="xl" style="left:1091.5px">21-08-2009</div>
<div class="title">Ganancia neta (acumulada)</div>
</body></html>
